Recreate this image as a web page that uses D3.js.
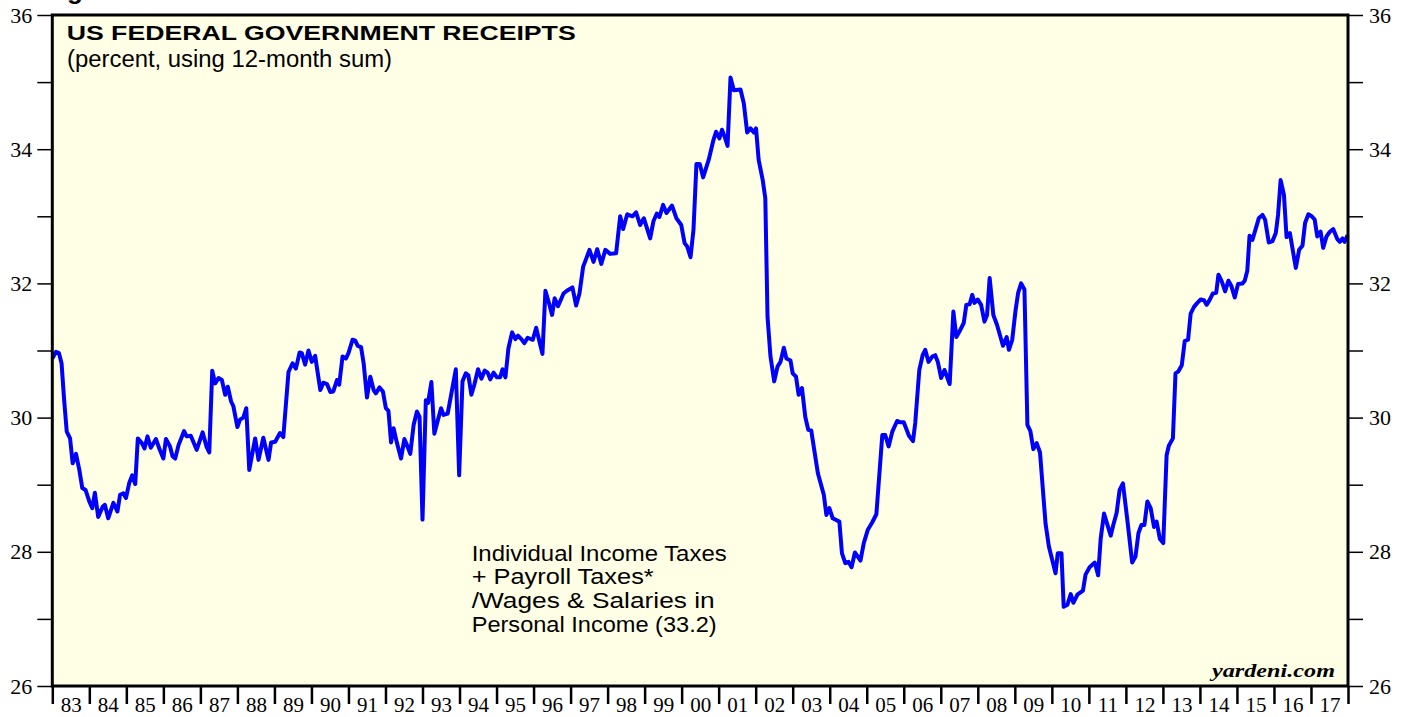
<!DOCTYPE html>
<html>
<head>
<meta charset="utf-8">
<script src="https://cdn.jsdelivr.net/npm/d3@7"></script>
<style>
  body { margin: 0; background: #fff; }
</style>
</head>
<body>
<svg id="chart" width="1407" height="717"></svg>
<script>
// dates as decimal years
var dates = [
  1983.00, 1983.10, 1983.18, 1983.25, 1983.32, 1983.39, 1983.48, 1983.55, 1983.64, 1983.73, 1983.81, 1983.90,
  1984.00, 1984.08, 1984.15, 1984.24, 1984.36, 1984.42, 1984.51, 1984.65, 1984.76, 1984.83, 1984.92, 1984.99,
  1985.08, 1985.16, 1985.24, 1985.31, 1985.42, 1985.49, 1985.57, 1985.66, 1985.80, 1985.89,
  1986.00, 1986.07, 1986.18, 1986.25, 1986.32, 1986.41, 1986.56, 1986.63, 1986.74, 1986.90,
  1987.06, 1987.17, 1987.24, 1987.32, 1987.40, 1987.49, 1987.58, 1987.67, 1987.74, 1987.83, 1987.89,
  1988.00, 1988.07, 1988.16, 1988.24, 1988.32, 1988.48, 1988.57, 1988.70, 1988.84, 1988.91,
  1989.02, 1989.15, 1989.24, 1989.38, 1989.49, 1989.58, 1989.68, 1989.74, 1989.83, 1989.92,
  1990.01, 1990.10, 1990.24, 1990.32, 1990.42, 1990.51, 1990.59, 1990.69, 1990.75, 1990.84, 1990.93,
  1991.00, 1991.11, 1991.18, 1991.25, 1991.34, 1991.41, 1991.50, 1991.59, 1991.68, 1991.74, 1991.84, 1991.93,
  1992.01, 1992.08, 1992.15, 1992.22, 1992.31, 1992.42, 1992.51, 1992.58, 1992.67, 1992.76, 1992.85, 1992.92,
  1993.00, 1993.09, 1993.15, 1993.24, 1993.32, 1993.50, 1993.57, 1993.68, 1993.90, 1993.99,
  1994.08, 1994.17, 1994.24, 1994.32, 1994.40, 1994.50, 1994.59, 1994.68, 1994.76, 1994.83, 1994.92,
  1995.01, 1995.10, 1995.16, 1995.24, 1995.32, 1995.42, 1995.51, 1995.58, 1995.67, 1995.75, 1995.84, 1995.98,
  1996.07, 1996.16, 1996.24, 1996.32, 1996.42, 1996.50, 1996.57, 1996.66, 1996.81, 1996.90,
  1997.05, 1997.15, 1997.24, 1997.34, 1997.43, 1997.51, 1997.62, 1997.72, 1997.83, 1997.94,
  1998.07, 1998.23, 1998.34, 1998.42, 1998.53, 1998.67, 1998.77, 1998.88, 1998.98,
  1999.15, 1999.24, 1999.33, 1999.40, 1999.50, 1999.59, 1999.74, 1999.86, 1999.99,
  2000.08, 2000.15, 2000.24, 2000.32, 2000.40, 2000.49, 2000.58, 2000.73, 2000.86, 2000.93,
  2001.02, 2001.09, 2001.16, 2001.24, 2001.32, 2001.41, 2001.59, 2001.68, 2001.77, 2001.86, 2001.95,
  2002.01, 2002.08, 2002.19, 2002.26, 2002.32, 2002.40, 2002.50, 2002.59, 2002.67, 2002.76, 2002.83, 2002.94,
  2003.00, 2003.09, 2003.16, 2003.25, 2003.34, 2003.42, 2003.50, 2003.68, 2003.84, 2003.91, 2003.99,
  2004.08, 2004.26, 2004.33, 2004.42, 2004.51, 2004.59, 2004.68, 2004.83, 2004.92,
  2005.03, 2005.15, 2005.26, 2005.42, 2005.50, 2005.59, 2005.69, 2005.82, 2005.91,
  2006.00, 2006.14, 2006.25, 2006.31, 2006.42, 2006.51, 2006.58, 2006.67, 2006.77, 2006.85, 2006.92,
  2007.01, 2007.10, 2007.24, 2007.34, 2007.42, 2007.53, 2007.62, 2007.69, 2007.78, 2007.85, 2007.91,
  2008.00, 2008.09, 2008.18, 2008.25, 2008.32, 2008.42, 2008.52, 2008.68, 2008.78, 2008.84, 2008.93,
  2009.02, 2009.09, 2009.17, 2009.26, 2009.34, 2009.42, 2009.50, 2009.59, 2009.68, 2009.83, 2009.92,
  2010.10, 2010.16, 2010.26, 2010.32, 2010.42, 2010.51, 2010.58, 2010.69, 2010.84, 2010.91,
  2011.02, 2011.16, 2011.25, 2011.32, 2011.41, 2011.59, 2011.66, 2011.75, 2011.83, 2011.92,
  2012.04, 2012.17, 2012.26, 2012.34, 2012.42, 2012.50, 2012.58, 2012.67, 2012.76, 2012.83, 2012.92,
  2013.01, 2013.10, 2013.16, 2013.27, 2013.34, 2013.42, 2013.51, 2013.59, 2013.68, 2013.75, 2013.84, 2013.93,
  2014.02, 2014.11, 2014.18, 2014.26, 2014.35, 2014.44, 2014.50, 2014.59, 2014.68, 2014.77, 2014.85, 2014.94,
  2015.03, 2015.15, 2015.21, 2015.28, 2015.34, 2015.42, 2015.51, 2015.59, 2015.69, 2015.76, 2015.86, 2015.96,
  2016.05, 2016.11, 2016.18, 2016.27, 2016.34, 2016.43, 2016.59, 2016.68, 2016.77, 2016.84, 2016.93,
  2017.02, 2017.10, 2017.17, 2017.26, 2017.33, 2017.42, 2017.51, 2017.60, 2017.71, 2017.78, 2017.85, 2017.91, 2017.99
];
var values = [
  30.88, 30.98, 30.96, 30.81, 30.26, 29.79, 29.69, 29.32, 29.46, 29.22, 28.95, 28.92,
  28.75, 28.65, 28.88, 28.52, 28.67, 28.70, 28.50, 28.73, 28.60, 28.85, 28.87, 28.80,
  29.03, 29.14, 29.01, 29.69, 29.62, 29.54, 29.72, 29.55, 29.68, 29.54,
  29.39, 29.68, 29.57, 29.42, 29.39, 29.59, 29.80, 29.72, 29.73, 29.52,
  29.78, 29.56, 29.48, 30.70, 30.51, 30.59, 30.56, 30.34, 30.46, 30.24, 30.17,
  29.86, 29.97, 30.00, 30.14, 29.22, 29.69, 29.37, 29.70, 29.37, 29.63,
  29.64, 29.77, 29.71, 30.68, 30.81, 30.73, 30.97, 30.96, 30.79, 31.00,
  30.83, 30.92, 30.41, 30.52, 30.50, 30.38, 30.39, 30.56, 30.49, 30.91, 30.88,
  30.96, 31.16, 31.15, 31.07, 31.05, 30.81, 30.30, 30.61, 30.41, 30.36, 30.45, 30.39,
  30.14, 30.10, 29.63, 29.84, 29.62, 29.39, 29.68, 29.59, 29.46, 29.89, 30.09, 30.01,
  28.48, 30.26, 30.22, 30.53, 29.76, 30.14, 30.04, 30.06, 30.72, 29.14,
  30.54, 30.66, 30.63, 30.34, 30.49, 30.72, 30.58, 30.70, 30.67, 30.57, 30.67,
  30.60, 30.60, 30.72, 30.60, 31.03, 31.27, 31.17, 31.22, 31.17, 31.11, 31.19, 31.16,
  31.34, 31.13, 30.95, 31.89, 31.70, 31.53, 31.78, 31.66, 31.85, 31.89,
  31.94, 31.67, 31.85, 32.25, 32.38, 32.50, 32.32, 32.51, 32.29, 32.50,
  32.44, 32.45, 33.00, 32.81, 33.03, 33.00, 33.06, 32.87, 32.97,
  32.67, 32.93, 33.04, 32.99, 33.17, 33.05, 33.16, 32.97, 32.87,
  32.60, 32.55, 32.39, 32.80, 33.78, 33.78, 33.58, 33.84, 34.14, 34.26,
  34.16, 34.29, 34.19, 34.05, 35.07, 34.88, 34.89, 34.68, 34.25, 34.31, 34.25,
  34.31, 33.84, 33.54, 33.27, 31.50, 30.91, 30.54, 30.76, 30.83, 31.04, 30.88, 30.85,
  30.66, 30.61, 30.34, 30.44, 30.01, 29.82, 29.81, 29.17, 28.85, 28.55, 28.65,
  28.50, 28.45, 27.98, 27.83, 27.85, 27.77, 27.99, 27.87, 28.13,
  28.33, 28.44, 28.56, 29.74, 29.74, 29.57, 29.79, 29.95, 29.93,
  29.93, 29.73, 29.65, 29.92, 30.71, 30.93, 31.01, 30.83, 30.91, 30.93, 30.83,
  30.59, 30.71, 30.50, 31.58, 31.20, 31.31, 31.41, 31.68, 31.69, 31.83, 31.71,
  31.76, 31.68, 31.43, 31.53, 32.08, 31.53, 31.38, 31.07, 31.20, 31.01, 31.16,
  31.60, 31.86, 32.00, 31.91, 29.89, 29.80, 29.53, 29.62, 29.48, 28.42, 28.08,
  27.68, 27.98, 27.98, 27.18, 27.21, 27.37, 27.24, 27.36, 27.42, 27.66,
  27.77, 27.84, 27.65, 28.20, 28.57, 28.24, 28.40, 28.58, 28.92, 29.02,
  28.47, 27.84, 27.93, 28.28, 28.40, 28.40, 28.75, 28.65, 28.37, 28.45, 28.19,
  28.13, 29.44, 29.58, 29.69, 30.66, 30.69, 30.78, 31.14, 31.16, 31.55, 31.65, 31.71,
  31.76, 31.75, 31.68, 31.75, 31.85, 31.86, 32.13, 32.03, 31.88, 32.04, 31.96, 31.79,
  31.99, 32.00, 32.04, 32.19, 32.71, 32.65, 32.82, 32.97, 33.02, 32.95, 32.61, 32.63,
  32.75, 33.02, 33.54, 33.32, 32.69, 32.75, 32.23, 32.50, 32.56, 32.90, 33.03,
  33.00, 32.95, 32.70, 32.77, 32.53, 32.70, 32.77, 32.81, 32.66, 32.62, 32.67, 32.62, 32.72
];
var years = d3.range(1983, 2018);
var yearLabels = ["83","84","85","86","87","88","89","90","91","92","93","94","95","96","97","98","99",
                  "00","01","02","03","04","05","06","07","08","09","10","11","12","13","14","15","16","17"];
var yTicks = d3.range(26, 37);
var noteLines = ["Individual Income Taxes", "+ Payroll Taxes*", "/Wages & Salaries in", "Personal Income (33.2)"];

// plot box (note: "top" is a reserved window global, so use other names)
var plotL = 52.3, plotR = 1348, plotT = 15, plotB = 686;

var svg = d3.select("#chart");

var x = d3.scaleLinear().domain([1983, 2018]).range([plotL, plotR]);
var y = d3.scaleLinear().domain([26, 36]).range([plotB, plotT]);

// cut off heading at the very top
svg.append("text")
    .attr("x", 44).attr("y", -1)
    .style("font-family", "'Liberation Sans', Arial, sans-serif")
    .style("font-weight", "bold")
    .style("font-size", "26px")
    .text("Figure 1.");

// plot background
svg.append("rect")
    .attr("x", plotL).attr("y", plotT)
    .attr("width", plotR - plotL).attr("height", plotB - plotT)
    .attr("fill", "#ffffe5");

// the line
var line = d3.line()
    .x(function(d) { return x(d[0]); })
    .y(function(d) { return y(d[1]); });

svg.append("path")
    .datum(d3.zip(dates, values))
    .attr("d", line)
    .attr("fill", "none")
    .attr("stroke", "#0000ff")
    .attr("stroke-width", 4)
    .attr("stroke-linejoin", "round");

// frame
svg.append("rect")
    .attr("x", plotL).attr("y", plotT)
    .attr("width", plotR - plotL).attr("height", plotB - plotT)
    .attr("fill", "none")
    .attr("stroke", "#000")
    .attr("stroke-width", 3);

function yFmt(d) { return d % 2 == 0 ? d : ""; }

var gl = svg.append("g")
    .attr("transform", "translate(" + plotL + ",0)")
    .call(d3.axisLeft(y).tickValues(yTicks).tickSize(15).tickPadding(5).tickFormat(yFmt));
var gr = svg.append("g")
    .attr("transform", "translate(" + plotR + ",0)")
    .call(d3.axisRight(y).tickValues(yTicks).tickSize(15).tickPadding(6).tickFormat(yFmt));
[gl, gr].forEach(function(g) {
    g.select(".domain").remove();
    g.selectAll(".tick line").attr("stroke", "#000").attr("stroke-width", 1.5);
    g.selectAll(".tick text")
        .attr("fill", "#000")
        .style("font-family", "'Liberation Serif', 'Times New Roman', serif")
        .style("font-size", "22px");
});

// year ticks
var gb = svg.append("g")
    .attr("transform", "translate(0," + plotB + ")")
    .call(d3.axisBottom(x).tickValues(d3.range(1983, 2019)).tickSize(18).tickFormat(""));
gb.select(".domain").remove();
gb.selectAll(".tick line").attr("stroke", "#000").attr("stroke-width", 2.5);

// year labels centered in each year
var gy = svg.append("g")
    .attr("transform", "translate(0," + plotB + ")")
    .call(d3.axisBottom(x)
        .tickValues(years.map(function(d) { return d + 0.5; }))
        .tickSize(0).tickPadding(11)
        .tickFormat(function(d, i) { return yearLabels[i]; }));
gy.select(".domain").remove();
gy.selectAll(".tick text")
    .attr("fill", "#000")
    .style("font-family", "'Liberation Serif', 'Times New Roman', serif")
    .style("font-size", "21px");

// title and subtitle
svg.append("text")
    .attr("x", 66.7).attr("y", 40)
    .attr("textLength", 509).attr("lengthAdjust", "spacingAndGlyphs")
    .style("font-family", "'Liberation Sans', Arial, sans-serif")
    .style("font-weight", "bold")
    .style("font-size", "21px")
    .text("US FEDERAL GOVERNMENT RECEIPTS");

svg.append("text")
    .attr("x", 67).attr("y", 67)
    .attr("textLength", 325).attr("lengthAdjust", "spacingAndGlyphs")
    .style("font-family", "'Liberation Sans', Arial, sans-serif")
    .style("font-size", "23px")
    .text("(percent, using 12-month sum)");

// series note
var noteWidths = [255, 182, 243, 245];
svg.selectAll(".note")
    .data(noteLines)
    .enter().append("text")
    .attr("class", "note")
    .attr("x", 471.7)
    .attr("y", function(d, i) { return 560.5 + i * 23.7; })
    .attr("textLength", function(d, i) { return noteWidths[i]; })
    .attr("lengthAdjust", "spacingAndGlyphs")
    .style("font-family", "'Liberation Sans', Arial, sans-serif")
    .style("font-size", "22px")
    .text(function(d) { return d; });

svg.append("text")
    .attr("x", 1212).attr("y", 677)
    .attr("textLength", 123).attr("lengthAdjust", "spacingAndGlyphs")
    .style("font-family", "'Liberation Serif', 'Times New Roman', serif")
    .style("font-weight", "bold")
    .style("font-style", "italic")
    .style("font-size", "19px")
    .text("yardeni.com");
</script>
</body>
</html>
